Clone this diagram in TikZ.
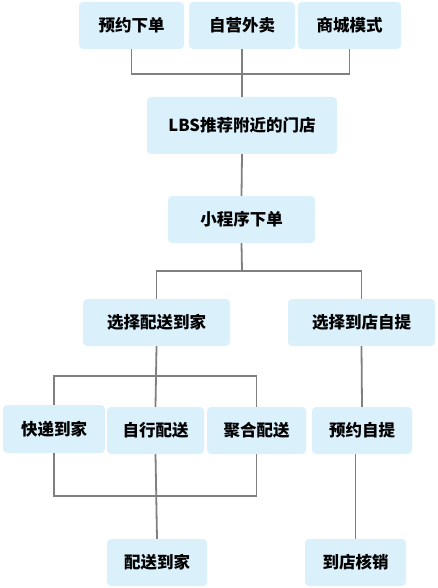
\documentclass[tikz,border=0pt]{standalone}
\usepackage{fontspec}
\usepackage{tikz}
\usetikzlibrary{positioning,calc}
\newfontfamily\cjk{Noto Sans CJK SC}
\definecolor{boxfill}{HTML}{DAF1FC}
\definecolor{linegray}{HTML}{808080}
\tikzset{
  x=1pt,y=-1pt,
  link/.style={draw=linegray,line width=1.8pt},
  tag/.style={rounded corners=4pt,fill=boxfill,align=center,inner sep=0pt,
    minimum height=47pt,text width=,font=\cjk\bfseries\fontsize{16.5}{19}\selectfont}
}

\begin{document}
\begin{tikzpicture}
  \useasboundingbox (0,0) rectangle (437,588);
  % top row
  \node[tag,minimum width=105pt] (yuyue) at (131.5,25.5) {预约下单};
  \node[tag,minimum width=106pt] (ziying) at (242,25.5) {自营外卖};
  \node[tag,minimum width=103pt] (shangcheng) at (349.5,25.5) {商城模式};
  \node[tag,minimum width=190pt,minimum height=57pt] (lbs) at (242,125.5) {LBS推荐附近的门店};
  \node[tag,minimum width=147pt] (xcx) at (241.5,219.5) {小程序下单};
  % delivery or pick-up
  \node[tag,minimum width=147pt] (peisong) at (156.5,322.5) {选择配送到家};
  \node[tag,minimum width=147pt] (daodian) at (361.5,322.5) {选择到店自提};
  \node[tag,minimum width=102pt,minimum height=48pt] (kuaidi) at (54,429) {快递到家};
  \node[tag,minimum width=97pt] (zixing) at (155.5,430.5) {自行配送};
  \node[tag,minimum width=99pt] (juhe) at (256.5,430.5) {聚合配送};
  \node[tag,minimum width=100pt] (ziti) at (362,430.5) {预约自提};
  \node[tag,minimum width=100pt] (psdj) at (157,562.5) {配送到家};
  \node[tag,minimum width=101pt] (hexiao) at (355.5,562.5) {到店核销};
  % junctions
  \coordinate (hubtop) at (242,74);
  \coordinate (hubsplit) at (242,271);
  \coordinate (hubmode) at (156,376);
  \coordinate (hubjoin) at (156,496);
  % connectors
  \draw[link] (yuyue.south) |- (hubtop) -| (shangcheng.south);
  \draw[link] (ziying.south) -- (lbs.north);
  \draw[link] (lbs.south) -- (xcx.north);
  \draw[link] (xcx.south) -- (hubsplit);
  \draw[link] (peisong.north) |- (hubsplit) -| (daodian.north);
  \draw[link] (peisong.south) -- (hubmode);
  \draw[link] (kuaidi.north) |- (hubmode) -| (juhe.north);
  \draw[link] (hubmode) -- (zixing.north);
  \draw[link] (daodian.south) -- (ziti.north);
  \draw[link] (kuaidi.south) |- (hubjoin) -| (juhe.south);
  \draw[link] (zixing.south) -- (psdj.north);
  \draw[link] (ziti.south -| hexiao.north) -- (hexiao.north);
\end{tikzpicture}
\end{document}
